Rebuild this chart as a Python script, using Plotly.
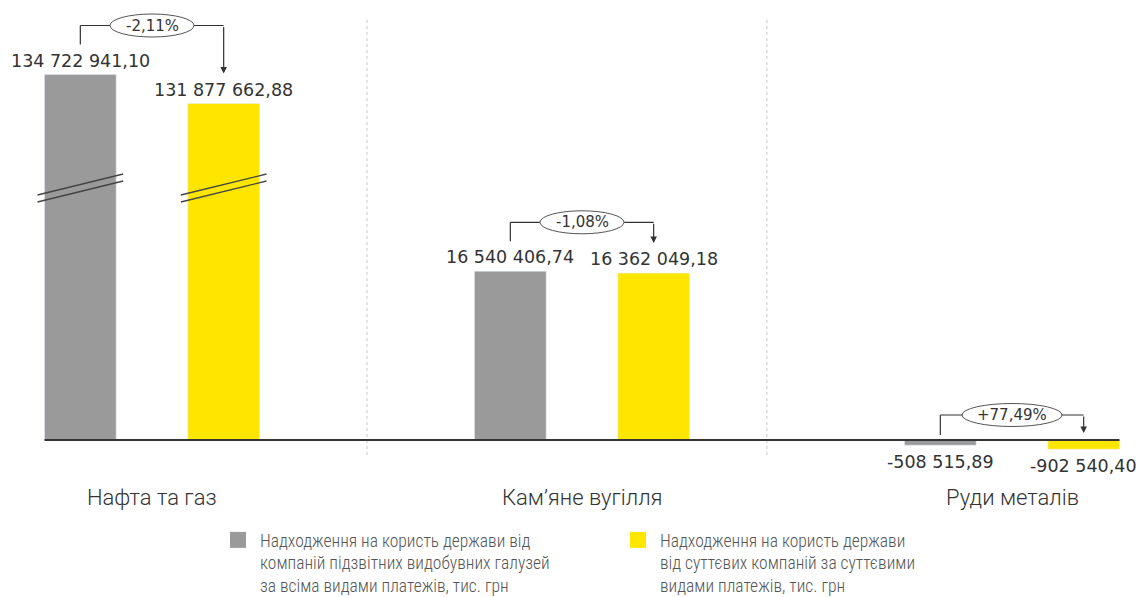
'''
    Bar chart: state revenues from extractive companies, by sector,
    with a broken value axis for the oil and gas bars.
'''

import plotly.graph_objects as go

categories = ['Нафта та газ', 'Кам’яне вугілля', 'Руди металів']
all_payments = [134722941.10, 16540406.74, -508515.89]
material_payments = [131877662.88, 16362049.18, -902540.40]
series_names = [
    'Надходження на користь держави від<br>компаній підзвітних видобувних галузей'
    '<br>за всіма видами платежів, тис. грн',
    'Надходження на користь держави<br>від суттєвих компаній за суттєвими'
    '<br>видами платежів, тис. грн',
]
series_colors = ['#9a9a9a', '#ffe600']

# the page puts the figure 8px in from the window corner
PAGE = 8
W, H = 1145 - PAGE, 597 - PAGE
PX = 10.2 / 1e6       # pixels per value unit (same on both halves)
BASE = 440 - PAGE     # pixel row of zero
BREAK = 190 - PAGE    # pixel row of the axis break
LOW_BOTTOM = 470 - PAGE
BREAK_VALUE = 123.4e6 # value at the bottom of the upper half
GROUP_PX = 430        # width of one category in pixels
FIRST_CENTER = 152 - PAGE
OFF = 1 / 6           # bar centre offset from category centre
HALF_BAR = 1 / 12
DIVIDERS = [0.5, 1.43]

VALUE_FONT = dict(family='DejaVu Sans', size=17.5, color='#333333')
CONDENSED = 'Roboto Condensed, Roboto, sans-serif'


def fmt(v):
    return f'{v:,.2f}'.replace(',', ' ').replace('.', ',')


def py(p):
    '''pixel row (figure) -> paper y'''
    return 1 - p / H


fig = go.Figure()
for vals, name, color in zip([all_payments, material_payments], series_names, series_colors):
    for yaxis in ['y', 'y2']:
        fig.add_trace(go.Bar(x=categories, y=vals, name=name, marker_color=color,
                             xaxis='x', yaxis=yaxis, showlegend=False, hoverinfo='y'))
    # legend entry with a larger square swatch
    fig.add_trace(go.Scatter(x=[None], y=[None], name=name, mode='markers',
                             marker=dict(symbol='square', size=16, color=color),
                             xaxis='x', yaxis='y'))

shapes = []
annotations = []

# value labels
for i in range(len(categories)):
    for j, vals in enumerate([all_payments, material_payments]):
        v = vals[i]
        annotations.append(dict(
            x=i + (-OFF if j == 0 else OFF), y=v, xref='x',
            yref='y2' if v > BREAK_VALUE else 'y',
            text=fmt(v), showarrow=False, font=VALUE_FONT,
            yanchor='bottom' if v >= 0 else 'top',
            yshift=2 if v >= 0 else -5))

# change brackets
for i in range(len(categories)):
    a, b = all_payments[i], material_payments[i]
    yref = 'y2' if max(a, b) > BREAK_VALUE else 'y'
    ta, tb = max(a, 0), max(b, 0)
    start = ta + (30 if a > 0 else 5) / PX
    tip = tb + (30 if b > 0 else 7) / PX
    level = max(ta, tb) + (49 if max(a, b) > 0 else 25) / PX
    xg, xy = i - OFF, i + OFF
    pct = f'{(b / a - 1) * 100:+.2f}%'.replace('.', ',')
    line = dict(color='#333333', width=1.2)
    shapes.append(dict(type='line', xref='x', yref=yref, x0=xg, x1=xg,
                       y0=start, y1=level, line=line))
    shapes.append(dict(type='line', xref='x', yref=yref, x0=xg, x1=xy,
                       y0=level, y1=level, line=line))
    ew = (16 * len(pct) - 12) / 2 / GROUP_PX
    eh = 11.5 / PX
    shapes.append(dict(type='circle', xref='x', yref=yref,
                       x0=i - ew, x1=i + ew, y0=level - eh, y1=level + eh,
                       fillcolor='white', line=dict(color='#555555', width=1)))
    annotations.append(dict(x=i, y=level, xref='x', yref=yref, text=pct,
                            showarrow=False,
                            font=dict(family='DejaVu Sans', size=15, color='#333333')))
    annotations.append(dict(x=xy, y=tip, xref='x', yref=yref, text='',
                            showarrow=True, axref='x', ayref=yref, ax=xy, ay=level,
                            arrowhead=2, arrowsize=1.1, arrowwidth=1.2,
                            arrowcolor='#333333', standoff=0))

# break marks on bars that cross the break
for i in range(len(categories)):
    for j, vals in enumerate([all_payments, material_payments]):
        if vals[i] <= BREAK_VALUE:
            continue
        c = i + (-OFF if j == 0 else OFF)
        xl = c - HALF_BAR - 7 / GROUP_PX
        xr = c + HALF_BAR + 7 / GROUP_PX
        for k in (-3.5, 3.5):
            shapes.append(dict(type='line', xref='x', yref='paper',
                               x0=xl, x1=xr,
                               y0=py(BREAK - 2 + k + 10.5), y1=py(BREAK - 2 + k - 10.5),
                               line=dict(color='#444444', width=1.3)))

# dotted dividers and baseline
for d in DIVIDERS:
    shapes.append(dict(type='line', xref='x', yref='paper', x0=d, x1=d,
                       y0=py(20 - PAGE), y1=py(455 - PAGE), layer='below',
                       line=dict(color='#c8c8c8', width=1, dash='dot')))
shapes.append(dict(type='line', xref='x', yref='y', x0=-0.25, x1=len(categories) - 0.75,
                   y0=0, y1=0, line=dict(color='#333333', width=2)))

# category labels
for i, cat in enumerate(categories):
    annotations.append(dict(x=i, y=py(497 - PAGE), xref='x', yref='paper', text=cat,
                            showarrow=False, yanchor='middle',
                            font=dict(family='Roboto', size=22, color='#333333',
                                      weight=300)))

x0 = -FIRST_CENTER / GROUP_PX
fig.update_layout(
    width=W, height=H,
    margin=dict(l=0, r=0, t=0, b=0, autoexpand=False),
    plot_bgcolor='white', paper_bgcolor='white',
    barmode='group', bargap=1 / 3, bargroupgap=0.5,
    xaxis=dict(range=[x0, x0 + W / GROUP_PX], domain=[0, 1], anchor='y',
               visible=False, fixedrange=True),
    yaxis=dict(domain=[py(LOW_BOTTOM), py(BREAK)],
               range=[-(LOW_BOTTOM - BASE) / PX, (BASE - BREAK) / PX],
               visible=False, anchor='x'),
    yaxis2=dict(domain=[py(BREAK), 1],
                range=[BREAK_VALUE, BREAK_VALUE + BREAK / PX],
                visible=False, anchor='x'),
    shapes=shapes,
    annotations=annotations,
    showlegend=True,
    legend=dict(orientation='h', x=208 / W, xanchor='left', y=py(522 - PAGE),
                yanchor='top', valign='top', entrywidth=351, entrywidthmode='pixels',
                itemsizing='trace', itemwidth=34,
                font=dict(family=CONDENSED, size=17.5, color='#555555', weight=300),
                traceorder='normal'),
)

fig.write_html('out.html')
